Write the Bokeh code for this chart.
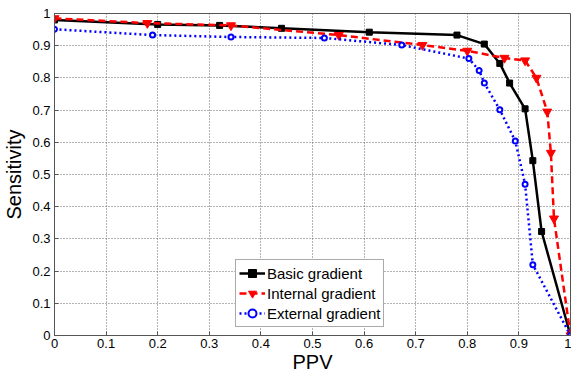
from bokeh.plotting import figure
from bokeh.models import Legend, LegendItem, FixedTicker
from bokeh.embed import file_html
from bokeh.resources import INLINE

basic_x = [0.0, 0.20, 0.32, 0.44, 0.61, 0.78, 0.833, 0.863, 0.882, 0.912, 0.927, 0.944, 1.0]
basic_y = [0.98, 0.966, 0.963, 0.954, 0.942, 0.933, 0.905, 0.845, 0.784, 0.704, 0.543, 0.323, 0.0]

internal_x = [0.0, 0.18, 0.342, 0.551, 0.713, 0.80, 0.872, 0.912, 0.934, 0.955, 0.962, 0.968, 1.0]
internal_y = [0.985, 0.97, 0.963, 0.933, 0.902, 0.884, 0.862, 0.854, 0.80, 0.695, 0.567, 0.363, 0.0]

external_x = [0.0, 0.19, 0.342, 0.523, 0.673, 0.803, 0.823, 0.833, 0.863, 0.893, 0.912, 0.927, 1.0]
external_y = [0.951, 0.933, 0.927, 0.924, 0.902, 0.86, 0.823, 0.784, 0.701, 0.604, 0.47, 0.22, 0.0]

ticks = [0, 0.1, 0.2, 0.3, 0.4, 0.5, 0.6, 0.7, 0.8, 0.9, 1]
tick_labels = {0: "0", 0.1: "0.1", 0.2: "0.2", 0.3: "0.3", 0.4: "0.4", 0.5: "0.5",
               0.6: "0.6", 0.7: "0.7", 0.8: "0.8", 0.9: "0.9", 1: "1"}

FONT = "Liberation Sans"

p = figure(width=571, height=375, x_range=(0, 1), y_range=(0, 1),
           output_backend="svg", toolbar_location=None,
           min_border_left=40, min_border_right=1, min_border_top=13, min_border_bottom=30)

p.outline_line_color = "#555555"
p.outline_line_width = 1
p.background_fill_color = "white"
p.border_fill_color = "white"

for ax in (p.xaxis[0], p.yaxis[0]):
    ax.ticker = FixedTicker(ticks=ticks)
    ax.major_label_overrides = tick_labels
    ax.major_tick_in = 4
    ax.major_tick_out = 0
    ax.minor_tick_line_color = None
    ax.axis_line_color = "#555555"
    ax.major_tick_line_color = "#555555"
    ax.major_label_text_font = FONT
    ax.major_label_text_font_size = "13px"
    ax.major_label_text_color = "black"
    ax.axis_label_text_font = FONT
    ax.axis_label_text_font_style = "normal"
    ax.axis_label_text_font_size = "20px"
    ax.axis_label_text_color = "black"

p.xaxis.axis_label = "PPV"
p.yaxis.axis_label = "Sensitivity"
p.xaxis.major_label_standoff = 3
p.yaxis.major_label_standoff = 4
p.xaxis.axis_label_standoff = 0
p.yaxis.axis_label_standoff = 4

p.grid.grid_line_color = "#666666"
p.grid.grid_line_dash = "1 2"
p.grid.grid_line_width = 1

lb = p.line(basic_x, basic_y, color="black", line_width=2.5)
mb = p.scatter(basic_x, basic_y, marker="square", size=6, color="black")

li = p.line(internal_x, internal_y, color="red", line_width=2.5, line_dash="7 4")
mi = p.scatter(internal_x, internal_y, marker="inverted_triangle", size=9, color="red")

le = p.line(external_x, external_y, color="blue", line_width=2.5, line_dash="2 3")
me = p.scatter(external_x, external_y, marker="circle", size=5, color="blue",
               fill_color="white", line_width=2)

legend = Legend(items=[
    LegendItem(label="Basic gradient", renderers=[lb, mb]),
    LegendItem(label="Internal gradient", renderers=[li, mi]),
    LegendItem(label="External gradient", renderers=[le, me]),
], location=(181, 8))
legend.label_text_font = FONT
legend.label_text_font_size = "15px"
legend.label_text_color = "black"
legend.border_line_color = "#555555"
legend.border_line_width = 1
legend.padding = 3
legend.spacing = 0
legend.margin = 0
legend.glyph_width = 26
legend.glyph_height = 20
legend.label_standoff = 2
legend.label_height = 20
legend.background_fill_alpha = 1
p.add_layout(legend, "center")

open("out.html", "w").write(file_html(p, INLINE))
